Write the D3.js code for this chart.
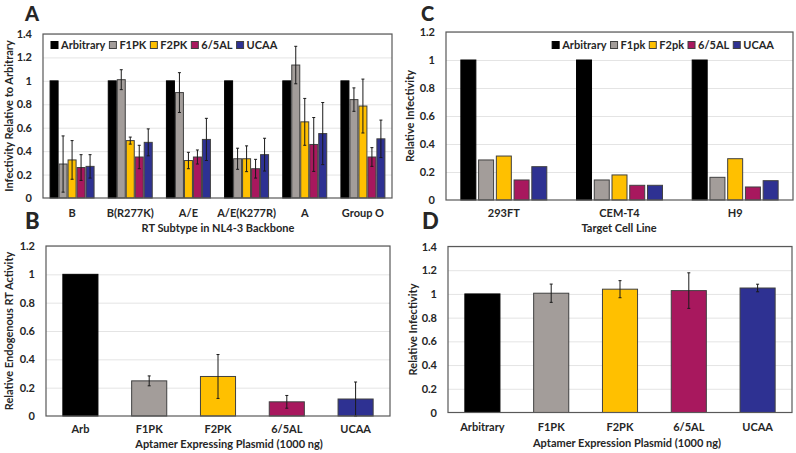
<!DOCTYPE html>
<html><head><meta charset="utf-8">
<script src="https://cdn.jsdelivr.net/npm/d3@7"></script>
<style>
body{margin:0;background:#fff}
text{font-family:Lato,"Open Sans",sans-serif;font-weight:700;fill:#262626}
</style>
</head><body>
<svg id="c" width="796" height="453"></svg>
<script>
// ---------- Panel A data ----------
const aCategories = ["B","B(R277K)","A/E","A/E(K277R)","A","Group O"];
const aSeries = ["Arbitrary","F1PK","F2PK","6/5AL","UCAA"];
const aArbitrary = [1,1,1,1,1,1];
const aF1PK    = [0.29,1.01,0.90,0.335,1.135,0.84];
const aF1PKErr = [0.24,0.085,0.17,0.09,0.16,0.10];
const aF2PK    = [0.325,0.49,0.32,0.335,0.65,0.785];
const aF2PKErr = [0.165,0.03,0.07,0.11,0.20,0.23];
const a65AL    = [0.26,0.35,0.35,0.25,0.457,0.35];
const a65ALErr = [0.11,0.10,0.06,0.08,0.23,0.08];
const aUCAA    = [0.27,0.475,0.50,0.37,0.55,0.505];
const aUCAAErr = [0.10,0.115,0.18,0.14,0.265,0.16];
const aTicks = [0,0.2,0.4,0.6,0.8,1,1.2,1.4];

// ---------- Panel C data ----------
const cCategories = ["293FT","CEM-T4","H9"];
const cSeries = ["Arbitrary","F1pk","F2pk","6/5AL","UCAA"];
const cArbitrary = [1,1,1];
const cF1pk = [0.286,0.143,0.162];
const cF2pk = [0.314,0.179,0.295];
const c65AL = [0.143,0.105,0.093];
const cUCAA = [0.238,0.105,0.138];
const cTicks = [0,0.2,0.4,0.6,0.8,1,1.2];

// ---------- Panel B data ----------
const bCategories = ["Arb","F1PK","F2PK","6/5AL","UCAA"];
const bValues = [1,0.248,0.279,0.10,0.12];
const bErrors = [0,0.035,0.155,0.045,0.12];
const bTicks = [0,0.2,0.4,0.6,0.8,1,1.2];

// ---------- Panel D data ----------
const dCategories = ["Arbitrary","F1PK","F2PK","6/5AL","UCAA"];
const dValues = [1,1.006,1.04,1.028,1.05];
const dErrors = [0,0.077,0.072,0.15,0.032];
const dTicks = [0,0.2,0.4,0.6,0.8,1,1.2,1.4];

// ---------- styles ----------
const COLORS = ["#000000","#a39d9a","#ffc000","#a8185e","#2e3192"];
const OUTLINE = "#404040";
const svg = d3.select("#c");
const fmt = v => String(+v.toFixed(1));

function panel(cfg){
  const g = svg.append("g");
  const y = d3.scaleLinear([0, cfg.ymax], [cfg.bottom, cfg.top]);
  const x0 = d3.scaleBand(cfg.cats, [cfg.left, cfg.right])
      .paddingInner(cfg.gpi).paddingOuter(cfg.gpi/2);
  const nS = cfg.series.length;
  const x1 = d3.scaleBand(d3.range(nS), [0, x0.bandwidth()]).paddingInner(cfg.bpi).paddingOuter(0);

  // gridlines
  const grid = g.append("g").attr("transform",`translate(${cfg.left},0)`)
    .call(d3.axisLeft(y).tickValues(cfg.ticks.filter(t=>t>0)).tickSize(-(cfg.right-cfg.left)).tickFormat(""));
  grid.select(".domain").remove();
  grid.selectAll("line").attr("stroke","#e4e4e4").attr("stroke-width",1);

  // bars
  cfg.series.forEach((s, si) => {
    const bars = g.append("g");
    s.values.forEach((v, ci) => {
      const xx = x0(cfg.cats[ci]) + x1(si);
      const colIdx = s.colors ? ci : si;
      bars.append("rect")
        .attr("x", xx).attr("width", x1.bandwidth())
        .attr("y", y(v)).attr("height", y(0) - y(v))
        .attr("fill", s.colors ? s.colors[ci] : s.color)
        .attr("stroke", colIdx === 0 ? "#000" : OUTLINE)
        .attr("stroke-width", 1);
      if (s.errs && s.errs[ci] > 0) {
        const cx = xx + x1.bandwidth()/2;
        const lo = y(Math.max(0, v - s.errs[ci])), hi = y(v + s.errs[ci]);
        bars.append("line").attr("x1",cx).attr("x2",cx).attr("y1",lo).attr("y2",hi)
          .attr("stroke","#1a1a1a").attr("stroke-width",1);
        [lo,hi].forEach(yy => bars.append("line").attr("x1",cx-1.5).attr("x2",cx+1.5)
          .attr("y1",yy).attr("y2",yy).attr("stroke","#1a1a1a").attr("stroke-width",1));
      }
    });
  });

  // frame
  g.append("rect").attr("x",cfg.left).attr("y",cfg.top)
    .attr("width",cfg.right-cfg.left).attr("height",cfg.bottom-cfg.top)
    .attr("fill","none").attr("stroke","#595959").attr("stroke-width",1.2);

  // y axis labels
  const ya = g.append("g").attr("transform",`translate(${cfg.tickRight},0)`)
    .call(d3.axisLeft(y).tickValues(cfg.ticks).tickSize(0).tickPadding(0).tickFormat(fmt));
  ya.select(".domain").remove();
  ya.selectAll("text").style("font-size","11px").attr("fill","#262626");

  // x axis labels
  const xa = g.append("g").attr("transform",`translate(0,${cfg.catY})`)
    .call(d3.axisBottom(x0).tickSize(0).tickPadding(0));
  xa.select(".domain").remove();
  xa.selectAll("text").attr("dy",null).attr("y",0).style("font-size","11px").attr("fill","#262626");

  // titles
  g.append("text").attr("x",cfg.xTitleX).attr("y",cfg.xTitleY).attr("text-anchor","middle")
    .style("font-size","11px").text(cfg.xTitle);
  g.append("text").attr("transform",`translate(${cfg.yTitleX},${(cfg.top+cfg.bottom)/2}) rotate(-90)`)
    .attr("text-anchor","middle").attr("dominant-baseline","central")
    .style("font-size","11px").text(cfg.yTitle);
  g.append("text").attr("x",cfg.letterX).attr("y",cfg.letterY)
    .style("font-size",cfg.letterSize+"px").style("font-weight","900")
    .attr("fill","#000").text(cfg.letter);

  // legend
  if (cfg.legend) {
    const lg = g.append("g");
    let cx = 0;
    cfg.series.forEach((s, si) => {
      const it = lg.append("g").attr("transform",`translate(${cx},0)`);
      it.append("rect").attr("x",0).attr("y",-3.5).attr("width",7).attr("height",7)
        .attr("fill",s.color).attr("stroke", si===0?"#000":OUTLINE).attr("stroke-width",1);
      const t = it.append("text").attr("x",10).attr("y",0).attr("dy","0.35em")
        .style("font-size","11px").text(s.name);
      cx += 10 + t.node().getComputedTextLength() + 4;
    });
    const total = cx - 4;
    const lx = cfg.legend.align === "right" ? cfg.legend.x - total : cfg.legend.x;
    lg.attr("transform",`translate(${lx},${cfg.legend.y})`);
  }
}

panel({
  left:43, right:392, top:34, bottom:198, ymax:1.4, ticks:aTicks, cats:aCategories,
  series:[
    {name:aSeries[0], color:COLORS[0], values:aArbitrary},
    {name:aSeries[1], color:COLORS[1], values:aF1PK, errs:aF1PKErr},
    {name:aSeries[2], color:COLORS[2], values:aF2PK, errs:aF2PKErr},
    {name:aSeries[3], color:COLORS[3], values:a65AL, errs:a65ALErr},
    {name:aSeries[4], color:COLORS[4], values:aUCAA, errs:aUCAAErr}],
  gpi:0.244, bpi:0.11, tickRight:32, catY:217,
  xTitle:"RT Subtype in NL4-3 Backbone", xTitleX:218, xTitleY:232,
  yTitle:"Infectivity Relative to Arbitrary", yTitleX:8,
  letter:"A", letterX:25, letterY:21, letterSize:20,
  legend:{x:51, y:45, align:"left"}
});

panel({
  left:446, right:793, top:32, bottom:200, ymax:1.2, ticks:cTicks, cats:cCategories,
  series:[
    {name:cSeries[0], color:COLORS[0], values:cArbitrary},
    {name:cSeries[1], color:COLORS[1], values:cF1pk},
    {name:cSeries[2], color:COLORS[2], values:cF2pk},
    {name:cSeries[3], color:COLORS[3], values:c65AL},
    {name:cSeries[4], color:COLORS[4], values:cUCAA}],
  gpi:0.257, bpi:0.155, tickRight:435, catY:217,
  xTitle:"Target Cell Line", xTitleX:619, xTitleY:232,
  yTitle:"Relative Infectivity", yTitleX:409,
  letter:"C", letterX:421, letterY:21, letterSize:20,
  legend:{x:774, y:45, align:"right"}
});

panel({
  left:46, right:390, top:246, bottom:416, ymax:1.2, ticks:bTicks, cats:bCategories,
  series:[{name:"B", colors:COLORS, values:bValues, errs:bErrors}],
  gpi:0.49, bpi:0, tickRight:35, catY:433,
  xTitle:"Aptamer Expressing Plasmid (1000 ng)", xTitleX:229, xTitleY:448,
  yTitle:"Relative Endogenous RT Activity", yTitleX:8,
  letter:"B", letterX:25, letterY:229, letterSize:22
});

panel({
  left:448, right:792, top:246.5, bottom:412.5, ymax:1.4, ticks:dTicks, cats:dCategories,
  series:[{name:"D", colors:COLORS, values:dValues, errs:dErrors}],
  gpi:0.49, bpi:0, tickRight:437, catY:431,
  xTitle:"Aptamer Expression Plasmid (1000 ng)", xTitleX:627, xTitleY:447,
  yTitle:"Relative Infectivity", yTitleX:412,
  letter:"D", letterX:422, letterY:229, letterSize:22
});
</script>
</body></html>
